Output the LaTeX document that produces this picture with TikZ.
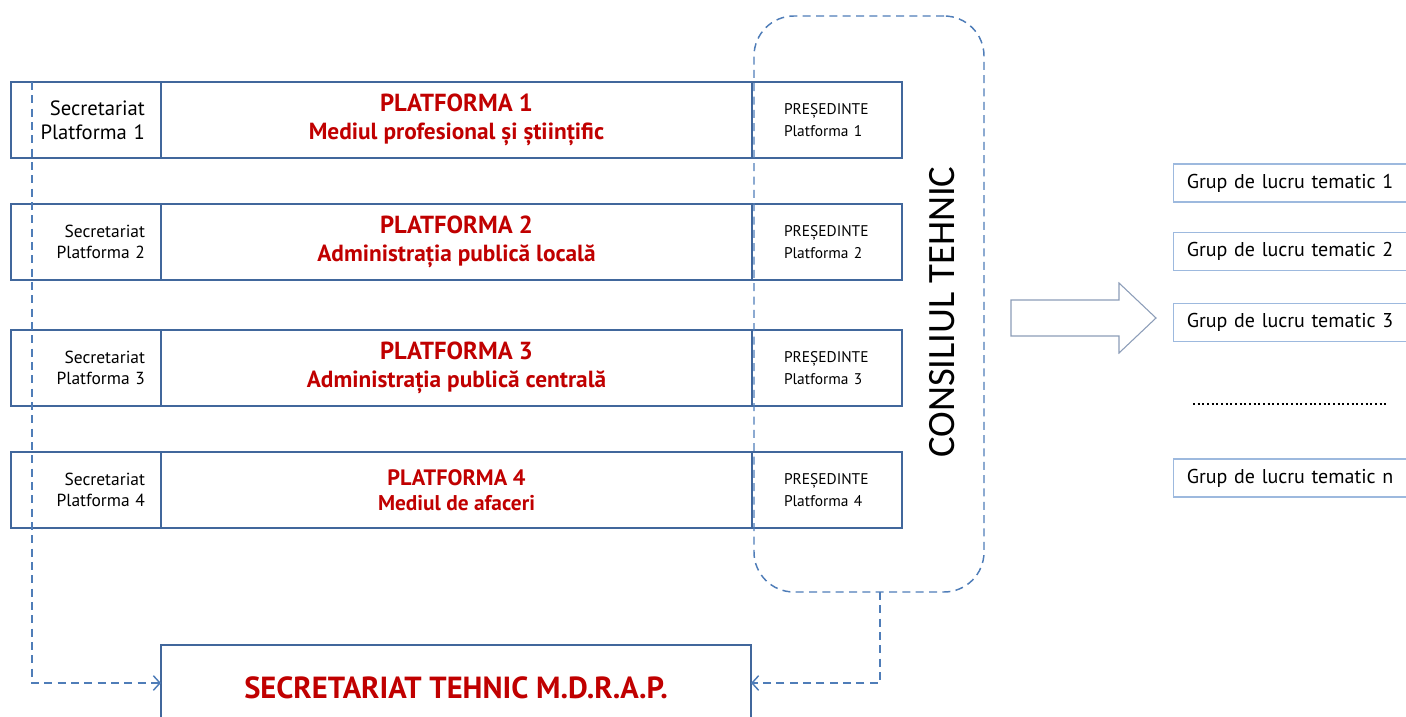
\documentclass[tikz,border=0pt]{standalone}
\usepackage{fontspec}
\setmainfont{PT Sans}
\newfontfamily\ctfont{Carlito}
\usepackage{xcolor}
\usetikzlibrary{positioning}
\usetikzlibrary{arrows,arrows.meta}

\definecolor{ramablue}{HTML}{41679C}
\definecolor{flowblue}{HTML}{4F7DB8}
\definecolor{grupblue}{HTML}{9DB9DE}
\definecolor{arrowgrey}{HTML}{8C9DB8}
\definecolor{platred}{HTML}{C00000}

\tikzset{
	rama/.style={draw=ramablue, line width=1.1pt, outer sep=0pt, minimum height=57pt},
	secbox/.style={rama, minimum width=112.5pt, text width=88.5pt, inner xsep=12pt, inner ysep=0pt, align=right, text=black},
	platbox/.style={rama, minimum width=443.25pt, align=center, text=platred},
	presbox/.style={rama, minimum width=112.5pt, text width=64.5pt, inner xsep=24pt, inner ysep=0pt, align=left, font=\fontsize{11.6}{16}\selectfont},
	grupbox/.style={draw=grupblue, line width=0.8pt, minimum width=190pt, minimum height=28.5pt, text width=170pt, align=left, anchor=west, font=\fontsize{15}{17}\selectfont},
	flow/.style={draw=flowblue, line width=1.1pt, dash pattern=on 6pt off 4pt, -{Straight Barb[length=5pt, width=11pt]}},
}

\begin{document}
\begin{tikzpicture}[x=0.75pt, y=-0.75pt]
		\useasboundingbox (0,0) rectangle (1406,717);
		% platforme
		\node[platbox, font=\bfseries\fontsize{17.5}{21}\selectfont] (plat1) at (456.5,120) {{\fontsize{18.5}{21}\selectfont PLATFORMA 1}\\ Mediul profesional și științific};
		\node[platbox, font=\bfseries\fontsize{17.5}{21}\selectfont, below=34.5pt of plat1] (plat2) {{\fontsize{18.5}{21}\selectfont PLATFORMA 2}\\ Administrația publică locală};
		\node[platbox, font=\bfseries\fontsize{17.5}{21}\selectfont, below=37.5pt of plat2] (plat3) {{\fontsize{18.5}{21}\selectfont PLATFORMA 3}\\ Administrația publică centrală};
		\node[platbox, font=\bfseries\fontsize{16}{19}\selectfont, below=34.5pt of plat3] (plat4) {{\fontsize{16.7}{19}\selectfont PLATFORMA 4}\\ Mediul de afaceri};
		% secretariate
		\node[secbox, left=0pt of plat1, font=\fontsize{15.5}{18}\selectfont] (sec1) {Secretariat\\Platforma 1};
		\node[secbox, left=0pt of plat2, font=\fontsize{13.1}{16}\selectfont] (sec2) {Secretariat\\Platforma 2};
		\node[secbox, left=0pt of plat3, font=\fontsize{13.1}{16}\selectfont] (sec3) {Secretariat\\Platforma 3};
		\node[secbox, left=0pt of plat4, font=\fontsize{13.1}{16}\selectfont] (sec4) {Secretariat\\Platforma 4};
		% presedinti
		\node[presbox, right=0pt of plat1] (pres1) {PREȘEDINTE\\Platforma 1};
		\node[presbox, right=0pt of plat2] (pres2) {PREȘEDINTE\\Platforma 2};
		\node[presbox, right=0pt of plat3] (pres3) {PREȘEDINTE\\Platforma 3};
		\node[presbox, right=0pt of plat4] (pres4) {PREȘEDINTE\\Platforma 4};
		% consiliul tehnic
		\node[draw=flowblue, line width=1.1pt, dash pattern=on 6pt off 4pt, rounded corners=30pt, minimum width=172.5pt, minimum height=432pt] (ct) at (869,304) {};
		\node[rotate=90, font=\ctfont\fontsize{29}{32}\selectfont] (cttext) at (942,312) {CONSILIUL TEHNIC};
		% secretariat tehnic
		\node[rama, minimum width=442.5pt, minimum height=64.5pt, text=platred, font=\bfseries\fontsize{22.9}{26}\selectfont] (stm) at (456,688) {SECRETARIAT TEHNIC M.D.R.A.P.};
		\coordinate (secline) at (32,82);
		\coordinate (ctfoot) at (880,592);
		\path[flow] (secline) |- ([yshift=3.75pt]stm.west);
		\path[flow] (ctfoot) |- ([yshift=3.75pt]stm.east);
		% grupuri de lucru
		\draw[arrowgrey, line width=0.8pt, fill=white] (1011,300) -- (1119,300) -- (1119,283) -- (1156,318) -- (1119,353) -- (1119,336) -- (1011,336) -- cycle;
		\node[grupbox] (grup1) at (1173,183) {Grup de lucru tematic 1};
		\node[grupbox, below=21.75pt of grup1.south west, anchor=north west] (grup2) {Grup de lucru tematic 2};
		\node[grupbox, below=24pt of grup2.south west, anchor=north west] (grup3) {Grup de lucru tematic 3};
		\node[grupbox] (grupn) at (1173,478) {Grup de lucru tematic n};
		\draw[black, line width=1.6pt, dash pattern=on 1.6pt off 1.9pt] (1193,404) -- (1387,404);
	\end{tikzpicture}
\end{document}
